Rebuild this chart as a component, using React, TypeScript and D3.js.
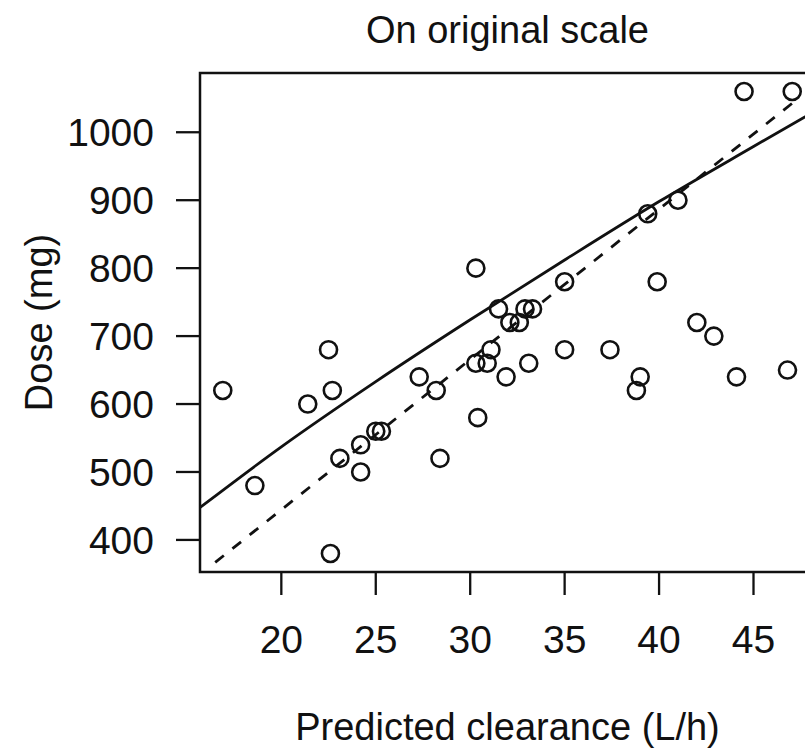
import React, { useEffect, useRef } from 'react';
import * as d3 from 'd3';

const clearance = [16.9, 18.6, 21.4, 22.5, 22.7, 22.6, 23.1, 24.2, 24.2, 25.0, 25.3, 27.3, 28.2, 28.4,
  30.3, 30.3, 30.9, 31.1, 30.4, 31.9, 31.5, 32.1, 32.6, 32.9, 33.3, 33.1, 35.0, 35.0, 37.4, 38.8,
  39.0, 39.4, 39.9, 41.0, 42.0, 42.9, 44.1, 44.5, 46.8, 47.05];
const dose = [620, 480, 600, 680, 620, 380, 520, 540, 500, 560, 560, 640, 620, 520,
  800, 660, 660, 680, 580, 640, 740, 720, 720, 740, 740, 660, 780, 680, 680, 620,
  640, 880, 780, 900, 720, 700, 640, 1060, 650, 1060];

// fitted curve (solid) and reference line (dashed)
const fitCL = [15, 20, 25, 30, 35, 40, 45, 50];
const fitDose = [433, 537, 633, 724, 812, 898, 979, 1059];
const refCL = [16.5, 47.2];
const refDose = [367, 1046];

const xTicks = [20, 25, 30, 35, 40, 45];
const yTicks = [400, 500, 600, 700, 800, 900, 1000];

const FONT = '"Liberation Sans", Arial, sans-serif';

// R style axis range: data range plus 4% on each side
function rRange(v: number[]) {
  const lo = d3.min(v) as number, hi = d3.max(v) as number;
  const pad = (hi - lo) * 0.04;
  return [lo - pad, hi + pad];
}

export default function App() {
  const ref = useRef<SVGSVGElement>(null);

  useEffect(() => {
    const svg = d3.select(ref.current);
    svg.selectAll('*').remove();

    const left = 200, right = 815, top = 73, bottom = 572;
    const x = d3.scaleLinear().domain(rRange(clearance)).range([left, right]);
    const y = d3.scaleLinear().domain(rRange(dose)).range([bottom, top]);

    svg.append('clipPath').attr('id', 'plotclip')
      .append('rect')
      .attr('x', left).attr('y', top)
      .attr('width', right - left).attr('height', bottom - top);

    const g = svg.append('g').attr('clip-path', 'url(#plotclip)');

    const line = d3.line<[number, number]>()
      .x(d => x(d[0]))
      .y(d => y(d[1]))
      .curve(d3.curveMonotoneX);

    g.append('path')
      .datum(fitCL.map((c, i) => [c, fitDose[i]] as [number, number]))
      .attr('d', line)
      .attr('fill', 'none')
      .attr('stroke', '#111')
      .attr('stroke-width', 2.8);

    g.append('path')
      .datum(refCL.map((c, i) => [c, refDose[i]] as [number, number]))
      .attr('d', line)
      .attr('fill', 'none')
      .attr('stroke', '#111')
      .attr('stroke-width', 2.8)
      .attr('stroke-dasharray', '11,11');

    g.selectAll('.pt')
      .data(clearance)
      .enter().append('circle')
      .attr('class', 'pt')
      .attr('cx', d => x(d))
      .attr('cy', (d, i) => y(dose[i]))
      .attr('r', 8.5)
      .attr('fill', 'none')
      .attr('stroke', '#111')
      .attr('stroke-width', 2.6);

    // box
    svg.append('rect')
      .attr('x', left).attr('y', top)
      .attr('width', right - left).attr('height', bottom - top)
      .attr('fill', 'none')
      .attr('stroke', '#111')
      .attr('stroke-width', 2.5);

    // x axis
    const xa = svg.append('g');
    xa.selectAll('line')
      .data(xTicks)
      .enter().append('line')
      .attr('x1', d => x(d)).attr('x2', d => x(d))
      .attr('y1', bottom).attr('y2', bottom + 23)
      .attr('stroke', '#111').attr('stroke-width', 2.3);
    xa.selectAll('text')
      .data(xTicks)
      .enter().append('text')
      .attr('x', d => x(d))
      .attr('y', 653)
      .attr('text-anchor', 'middle')
      .attr('font-family', FONT)
      .attr('font-size', 39)
      .attr('fill', '#111')
      .text(d => d);

    // y axis
    const ya = svg.append('g');
    ya.selectAll('line')
      .data(yTicks)
      .enter().append('line')
      .attr('x1', left - 24).attr('x2', left)
      .attr('y1', d => y(d)).attr('y2', d => y(d))
      .attr('stroke', '#111').attr('stroke-width', 2.3);
    ya.selectAll('text')
      .data(yTicks)
      .enter().append('text')
      .attr('x', 154)
      .attr('y', d => y(d) + 14)
      .attr('text-anchor', 'end')
      .attr('font-family', FONT)
      .attr('font-size', 39)
      .attr('fill', '#111')
      .text(d => d);

    const cx = (left + right) / 2;
    svg.append('text')
      .attr('x', cx).attr('y', 43)
      .attr('text-anchor', 'middle')
      .attr('font-family', FONT).attr('font-size', 38)
      .attr('fill', '#111')
      .text('On original scale');

    svg.append('text')
      .attr('x', cx).attr('y', 740)
      .attr('text-anchor', 'middle')
      .attr('font-family', FONT).attr('font-size', 38)
      .attr('fill', '#111')
      .text('Predicted clearance (L/h)');

    svg.append('text')
      .attr('transform', 'translate(52,' + (top + bottom) / 2 + ') rotate(-90)')
      .attr('text-anchor', 'middle')
      .attr('font-family', FONT).attr('font-size', 38)
      .attr('fill', '#111')
      .text('Dose (mg)');
  }, []);

  return (
    <svg ref={ref} width={805} height={751}
      style={{ position: 'absolute', left: 0, top: 0, background: '#fff' }} />
  );
}
